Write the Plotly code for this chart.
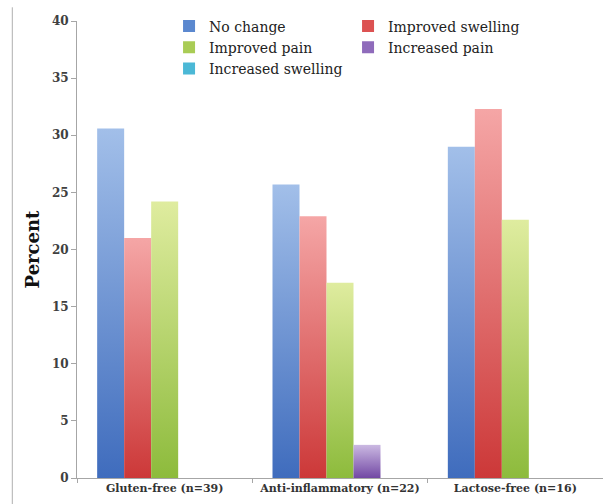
import json
import plotly.graph_objects as go

# Diet categories (x axis) and the share of respondents per outcome, in percent
categories = ["Gluten-free (n=39)", "Anti-inflammatory (n=22)", "Lactose-free (n=16)"]
series_names = ["No change", "Improved swelling", "Improved pain",
                "Increased pain", "Increased swelling"]
no_change = [30.6, 25.7, 29.0]
improved_swelling = [21.0, 22.9, 32.3]
improved_pain = [24.2, 17.1, 22.6]
increased_pain = [0, 2.9, 0]
increased_swelling = [0, 0, 0]

y_ticks = [0, 5, 10, 15, 20, 25, 30, 35, 40]

# solid colour for the legend swatch, plus light/dark ends of the bar gradient
solid_colors = ["#5b88cf", "#dc5252", "#a9cc55", "#8f6bbb", "#4bb8d6"]
grad_top = ["#a2bfe9", "#f5a6a6", "#dfec9f", "#cbb9e2", "#a6def0"]
grad_bottom = ["#3f6cbd", "#cc3838", "#8dbb3c", "#7248a4", "#2fa3c8"]

values = [no_change, improved_swelling, improved_pain, increased_pain, increased_swelling]

SERIF = "DejaVu Serif, Liberation Serif, serif"

fig = go.Figure()
for name, vals, col in zip(series_names, values, solid_colors):
    fig.add_trace(go.Bar(
        x=categories, y=vals, name=name,
        marker=dict(color=col, line=dict(width=0)),
    ))

fig.update_layout(
    width=603, height=504,
    barmode="group", bargap=0.23, bargroupgap=0,
    paper_bgcolor="white", plot_bgcolor="white",
    margin=dict(l=77, r=0, t=21, b=26),
    font=dict(family=SERIF, color="#404040"),
    showlegend=True,
    legend=dict(
        orientation="h", x=0.175, xanchor="left",
        y=0.942, yanchor="middle",
        bgcolor="rgba(0,0,0,0)",
        font=dict(family=SERIF, size=14, color="#222222", weight="normal"),
        entrywidth=134, entrywidthmode="pixels",
        itemwidth=30, traceorder="normal",
    ),
    xaxis=dict(
        range=[-0.5, 2.5],
        showline=True, linecolor="#a6a6a6", linewidth=1,
        ticks="outside", tickson="boundaries", ticklen=4, tickcolor="#a6a6a6",
        tickfont=dict(family=SERIF, size=11, color="#333333", weight="bold"),
        showgrid=False, zeroline=False, fixedrange=True,
    ),
    yaxis=dict(
        range=[0, 40], tickvals=y_ticks,
        showline=True, linecolor="#a6a6a6", linewidth=1,
        ticks="outside", ticklen=5, tickcolor="#a6a6a6",
        tickfont=dict(family=SERIF, size=12, color="#404040", weight="bold"),
        showgrid=False, zeroline=False,
        title=dict(text="Percent", standoff=7,
                   font=dict(family=SERIF, size=18, color="#111111", weight="bold")),
    ),
)

# thin frame line running down the left edge
fig.add_shape(type="line", xref="paper", yref="paper",
              x0=-0.123, x1=-0.123, y0=-0.06, y1=1.03,
              line=dict(color="#b0b0b0", width=1))

# vertical light-to-dark gradient on each bar series
post_js = """
(function(){
  var tops = %s, bottoms = %s;
  var gd = document.getElementById('{plot_id}');
  function paint(){
    var svg = gd.querySelector('.main-svg');
    var ns = 'http://www.w3.org/2000/svg';
    var defs = svg.querySelector('defs');
    tops.forEach(function(t, i){
      var id = 'bargrad' + i;
      if (!document.getElementById(id)) {
        var g = document.createElementNS(ns, 'linearGradient');
        g.setAttribute('id', id);
        g.setAttribute('x1', '0'); g.setAttribute('y1', '0');
        g.setAttribute('x2', '0'); g.setAttribute('y2', '1');
        [[0, t], [1, bottoms[i]]].forEach(function(s){
          var st = document.createElementNS(ns, 'stop');
          st.setAttribute('offset', s[0]);
          st.setAttribute('stop-color', s[1]);
          g.appendChild(st);
        });
        defs.appendChild(g);
      }
    });
    var traces = gd.querySelectorAll('.barlayer .trace');
    traces.forEach(function(tr, i){
      tr.querySelectorAll('.point path').forEach(function(p){
        p.style.fill = 'url(#bargrad' + i + ')';
      });
    });
  }
  paint();
  gd.on('plotly_afterplot', paint);
})();
""" % (json.dumps(grad_top), json.dumps(grad_bottom))

fig.write_html("out.html", post_script=post_js)
